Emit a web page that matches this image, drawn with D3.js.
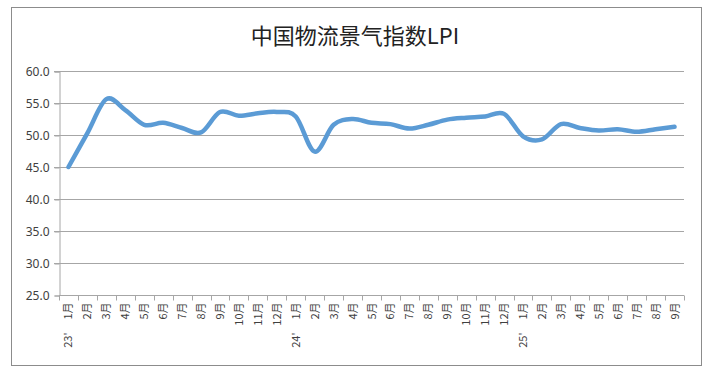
<!DOCTYPE html>
<html>
<head>
<meta charset="utf-8">
<script src="https://cdn.jsdelivr.net/npm/d3@7"></script>
<style>
  body { margin: 0; background: #fff; }
  text { font-family: "Noto Sans CJK SC", "Noto Sans", sans-serif; }
</style>
</head>
<body>
<div id="chart"></div>
<script>
// months Jan 2023 .. Sep 2025
const months = ['1月','2月','3月','4月','5月','6月','7月','8月','9月','10月','11月','12月',
                '1月','2月','3月','4月','5月','6月','7月','8月','9月','10月','11月','12月',
                '1月','2月','3月','4月','5月','6月','7月','8月','9月'];
const yearLabels = {0: "23'", 12: "24'", 24: "25'"};
const lpi = [45.0, 50.3, 55.6, 53.9, 51.6, 51.9, 51.1, 50.4, 53.6, 53.0, 53.4, 53.6,
             52.9, 47.4, 51.6, 52.5, 51.9, 51.7, 51.0, 51.6, 52.4, 52.7, 52.9, 53.3,
             49.8, 49.3, 51.7, 51.1, 50.7, 50.9, 50.5, 50.9, 51.3];
const yTicks = [25, 30, 35, 40, 45, 50, 55, 60];

const width = 708, height = 372;
const margin = {left: 59, right: 24, top: 71, bottom: 77};

const svg = d3.select('#chart').append('svg')
  .attr('width', width)
  .attr('height', height);

// outer frame
svg.append('rect')
  .attr('x', 11.5).attr('y', 7.5)
  .attr('width', 690).attr('height', 358)
  .attr('fill', '#fff')
  .attr('stroke', '#8c8c8c');

svg.append('text')
  .attr('x', 355).attr('y', 34)
  .attr('text-anchor', 'middle')
  .attr('dominant-baseline', 'central')
  .attr('font-size', 22)
  .attr('fill', '#222')
  .text('中国物流景气指数LPI');

const x = d3.scaleBand()
  .domain(d3.range(lpi.length))
  .range([margin.left, width - margin.right]);

const y = d3.scaleLinear()
  .domain([25, 60])
  .range([height - margin.bottom, margin.top]);

// gridlines
svg.append('g')
  .selectAll('line')
  .data(yTicks.slice(1))
  .enter().append('line')
  .attr('x1', margin.left - 5)
  .attr('x2', width - margin.right)
  .attr('y1', d => Math.round(y(d)) + 0.5)
  .attr('y2', d => Math.round(y(d)) + 0.5)
  .attr('stroke', '#a6a6a6')
  .attr('stroke-width', 1);

// y axis
const yAxis = svg.append('g')
  .attr('transform', `translate(${margin.left + 0.5},0.5)`)
  .call(d3.axisLeft(y).tickValues(yTicks).tickFormat(d3.format('.1f')).tickSize(5).tickPadding(5));
yAxis.select('.domain').attr('stroke', '#a6a6a6');
yAxis.selectAll('.tick line').attr('stroke', '#a6a6a6');
yAxis.selectAll('text')
  .attr('font-size', 12)
  .attr('fill', '#404040')
  .style('font-family', '"Noto Sans", sans-serif');

// x axis
const xAxis = svg.append('g')
  .attr('transform', `translate(0,${Math.round(y(25)) + 0.5})`);
xAxis.append('line')
  .attr('x1', margin.left).attr('x2', width - margin.right)
  .attr('stroke', '#a6a6a6');
xAxis.selectAll('.tk')
  .data(d3.range(lpi.length + 1))
  .enter().append('line')
  .attr('class', 'tk')
  .attr('x1', i => Math.round(margin.left + i * x.step()) + 0.5)
  .attr('x2', i => Math.round(margin.left + i * x.step()) + 0.5)
  .attr('y1', 0).attr('y2', 5)
  .attr('stroke', '#a6a6a6');

xAxis.selectAll('.mlabel')
  .data(months)
  .enter().append('text')
  .attr('class', 'mlabel')
  .attr('transform', (d, i) => `translate(${x(i) + x.bandwidth() / 2 + 4},7) rotate(-90)`)
  .attr('text-anchor', 'end')
  .attr('font-size', 11)
  .attr('fill', '#404040')
  .text(d => d);

xAxis.selectAll('.ylabel')
  .data(Object.keys(yearLabels).map(Number))
  .enter().append('text')
  .attr('class', 'ylabel')
  .attr('transform', i => `translate(${x(i) + x.bandwidth() / 2 + 4},37) rotate(-90)`)
  .attr('text-anchor', 'end')
  .attr('font-size', 11)
  .attr('fill', '#404040')
  .text(i => yearLabels[i]);

// series line
const line = d3.line()
  .x((d, i) => x(i) + x.bandwidth() / 2)
  .y(d => y(d))
  .curve(d3.curveCatmullRom.alpha(0));

svg.append('path')
  .datum(lpi)
  .attr('fill', 'none')
  .attr('stroke', '#5b9bd5')
  .attr('stroke-width', 4.5)
  .attr('stroke-linecap', 'round')
  .attr('stroke-linejoin', 'round')
  .attr('d', line);
</script>
</body>
</html>
